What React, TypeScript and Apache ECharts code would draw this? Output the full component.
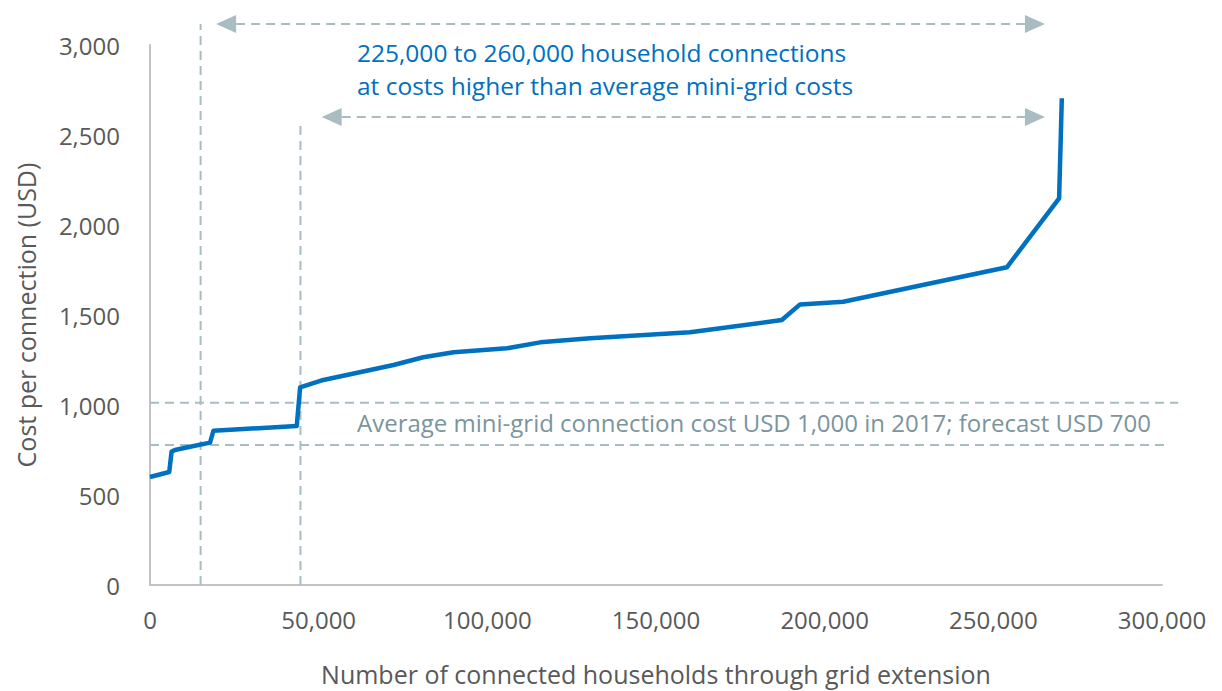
import React, { useEffect, useRef } from "react";
import * as echarts from "echarts";

// Cost curve
const households = [0, 5700, 6400, 7400, 11900, 17800, 18800, 43500, 44500, 51400, 72200, 81000, 90000, 105800, 115700, 130500, 160100, 187300, 192700, 205500, 254000, 269500, 270300];
const costPerConnection = [600, 628, 741, 750, 768, 791, 857, 883, 1098, 1139, 1222, 1265, 1293, 1315, 1348, 1371, 1404, 1472, 1559, 1574, 1765, 2148, 2704];

// Reference annotations (data coordinates)
const miniGridCosts = [1013, 778];
const miniGridLineEnds = [304800, 301800];
const dividerX = [15000, 44600];
const dividerTop = [3117, 2583];
const arrowY = [3117, 2600];
const arrowStart = [19600, 50900];
const arrowEnd = [265300, 265300];

const blueText = ["225,000 to 260,000 household connections", "at costs higher than average mini-grid costs"];
const grayText = "Average mini-grid connection cost USD 1,000 in 2017; forecast USD 700";

const DASH = "#a9bcc2";
const AXIS_TEXT = "#595959";

export default function App() {
  const ref = useRef<HTMLDivElement>(null);
  useEffect(() => {
    const chart = echarts.init(ref.current!, null, { renderer: "svg" });
    chart.setOption({
      animation: false,
      backgroundColor: "#ffffff",
      grid: { left: 150, right: 60, top: 45, bottom: 106, containLabel: false },
      xAxis: {
        type: "value",
        min: 0,
        max: 300000,
        interval: 50000,
        name: "Number of connected households through grid extension",
        nameLocation: "middle",
        nameGap: 76,
        nameTextStyle: { fontFamily: "Open Sans", fontSize: 25, color: AXIS_TEXT },
        axisLine: { show: true, lineStyle: { color: "#c3c3c3", width: 2 } },
        axisTick: { show: false },
        splitLine: { show: false },
        axisLabel: {
          margin: 22,
          fontFamily: "Open Sans",
          fontSize: 24,
          color: AXIS_TEXT,
          formatter: (v: number) => v.toLocaleString("en-US"),
        },
      },
      yAxis: {
        type: "value",
        min: 0,
        max: 3000,
        interval: 500,
        name: "Cost per connection (USD)",
        nameLocation: "middle",
        nameGap: 112,
        nameTextStyle: { fontFamily: "Open Sans", fontSize: 25, color: AXIS_TEXT },
        axisLine: { show: true, lineStyle: { color: "#c3c3c3", width: 2 } },
        axisTick: { show: false },
        splitLine: { show: false },
        axisLabel: {
          margin: 30,
          fontFamily: "Open Sans",
          fontSize: 24,
          color: AXIS_TEXT,
          formatter: (v: number) => v.toLocaleString("en-US"),
        },
      },
      series: [
        {
          type: "line",
          data: households.map((x, i) => [x, costPerConnection[i]]),
          showSymbol: false,
          symbol: "none",
          lineStyle: { color: "#0070c0", width: 4.5, join: "round" },
          z: 5,
        },
      ],
    });

    const px = (x: number, y: number) => chart.convertToPixel({ gridIndex: 0 }, [x, y]) as number[];
    const dashStyle = { stroke: DASH, lineWidth: 2, lineDash: [9, 6] };
    const graphics: any[] = [];

    miniGridCosts.forEach((c, i) => {
      const a = px(0, c);
      const b = px(miniGridLineEnds[i], c);
      graphics.push({ type: "line", shape: { x1: a[0], y1: a[1], x2: b[0], y2: b[1] }, style: dashStyle, z: 1 });
    });
    dividerX.forEach((x, i) => {
      const a = px(x, 0);
      const b = px(x, dividerTop[i]);
      graphics.push({ type: "line", shape: { x1: a[0], y1: a[1], x2: b[0], y2: b[1] }, style: dashStyle, z: 1 });
    });
    arrowY.forEach((y, i) => {
      const l = px(arrowStart[i], y);
      const r = px(arrowEnd[i], y);
      const head = 20;
      const half = 9;
      graphics.push({ type: "line", shape: { x1: l[0] + head, y1: l[1], x2: r[0] - head, y2: r[1] }, style: dashStyle, z: 1 });
      graphics.push({ type: "polygon", shape: { points: [[l[0], l[1]], [l[0] + head, l[1] - half], [l[0] + head, l[1] + half]] }, style: { fill: DASH }, z: 1 });
      graphics.push({ type: "polygon", shape: { points: [[r[0], r[1]], [r[0] - head, r[1] - half], [r[0] - head, r[1] + half]] }, style: { fill: DASH }, z: 1 });
    });
    blueText.forEach((t, i) => {
      graphics.push({
        type: "text",
        x: 357,
        y: 52 + i * 33,
        style: { text: t, fill: "#0070c0", font: "24.5px 'Open Sans'", textVerticalAlign: "middle", textAlign: "left" },
        z: 10,
      });
    });
    graphics.push({
      type: "text",
      x: 357,
      y: 422,
      style: { text: grayText, fill: "#7a959e", font: "24px 'Open Sans'", textVerticalAlign: "middle", textAlign: "left" },
      z: 10,
    });
    chart.setOption({ graphic: graphics });
    return () => chart.dispose();
  }, []);
  return <div ref={ref} style={{ position: "absolute", left: 0, top: 0, width: 1222, height: 691 }} />;
}
